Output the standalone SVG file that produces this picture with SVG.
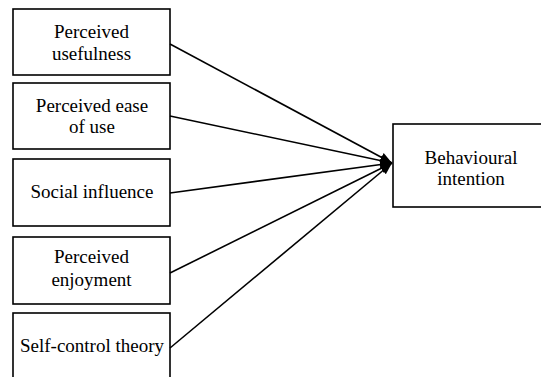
<svg xmlns="http://www.w3.org/2000/svg" width="541" height="377" viewBox="0 0 541 377">
<style>
.box{fill:#fff;stroke:#000;stroke-width:1.6}
text{font-family:'Liberation Serif','Times New Roman','DejaVu Serif',serif;font-size:19px;fill:#000;text-anchor:middle}
.c{stroke:#000;stroke-width:1.6;fill:none}
</style>
<defs>
<marker id="ah" viewBox="0 0 10 10" refX="10" refY="5" markerWidth="12" markerHeight="12" markerUnits="userSpaceOnUse" orient="auto">
<path d="M0,1 L10,5 L0,9 z" fill="#000"/>
</marker>
</defs>
<rect width="541" height="377" fill="#fff"/>
<g id="pu"><rect class="box" x="13" y="9" width="157" height="66"/><text x="91.5" y="38">Perceived</text><text x="91.5" y="60">usefulness</text></g>
<g id="peou"><rect class="box" x="13" y="83" width="157" height="66"/><text x="92" y="112">Perceived ease</text><text x="92" y="133">of use</text></g>
<g id="si"><rect class="box" x="13" y="159" width="157" height="67"/><text x="92" y="198">Social influence</text></g>
<g id="pe"><rect class="box" x="13" y="237" width="157" height="67"/><text x="91.5" y="263">Perceived</text><text x="91.5" y="286">enjoyment</text></g>
<g id="sct"><rect class="box" x="13" y="313" width="157" height="80"/><text x="92" y="352">Self-control theory</text></g>
<g id="bi"><rect class="box" x="393" y="124" width="157" height="83"/><text x="471" y="164">Behavioural</text><text x="471" y="185">intention</text></g>
<g id="connectors">
<line class="c" x1="170" y1="44" x2="392" y2="163" marker-end="url(#ah)"/>
<line class="c" x1="170" y1="116" x2="392" y2="163" marker-end="url(#ah)"/>
<line class="c" x1="170" y1="193" x2="392" y2="163" marker-end="url(#ah)"/>
<line class="c" x1="170" y1="273" x2="392" y2="163" marker-end="url(#ah)"/>
<line class="c" x1="170" y1="348" x2="392" y2="163" marker-end="url(#ah)"/>
</g>
</svg>
